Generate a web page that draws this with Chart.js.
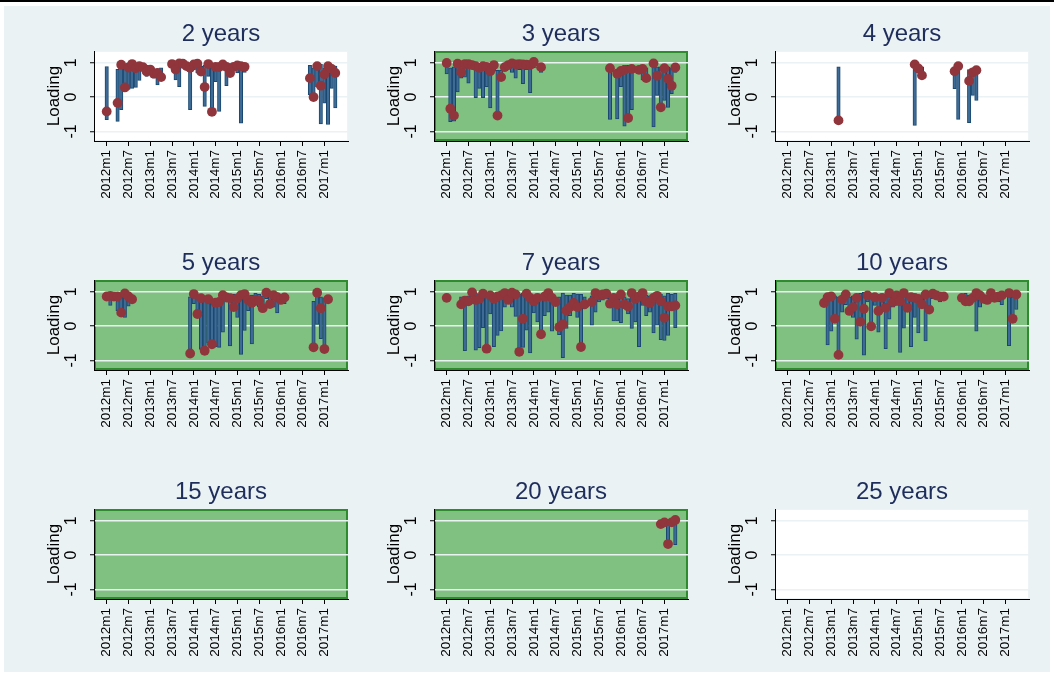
<!DOCTYPE html>
<html>
<head>
<meta charset="utf-8">
<script src="https://cdn.jsdelivr.net/npm/chart.js@4.4.1/dist/chart.umd.min.js"></script>
<style>
  html, body { margin: 0; padding: 0; background: #ffffff; }
  body { width: 1054px; height: 675px; position: relative; overflow: hidden; }
  #rule { position: absolute; left: 0; top: 0; width: 1054px; height: 2px; background: #000; }
  #region { position: absolute; left: 4px; top: 6px; width: 1046px; height: 666px; background: #eaf2f3; }
  canvas { position: absolute; }
</style>
</head>
<body>
<div id="rule"></div>
<div id="region"></div>
<script>
// Time axis: months counted from 2012m1 (0 = 2012m1)
const tickMonths = [0, 6, 12, 18, 24, 30, 36, 42, 48, 54, 60];
const tickLabels = ['2012m1', '2012m7', '2013m1', '2013m7', '2014m1', '2014m7',
                    '2015m1', '2015m7', '2016m1', '2016m7', '2017m1'];
const yTicks = [-1, 0, 1];

// 2 years
const months2 = [0, 3, 4, 5, 6, 7, 8, 9, 10, 11, 12, 13, 14, 15, 18, 19, 20, 21, 22, 23, 24, 25, 26, 27, 28, 29, 30, 31, 32, 33, 34, 35, 36, 37, 38, 56, 57, 58, 59, 60, 61, 62, 63];
const low2   = [-0.66, -0.71, -0.37, 0.22, 0.22, 0.25, 0.28, 0.48, 0.75, 0.60, 0.75, 0.55, 0.35, 0.58, 0.90, 0.50, 0.30, 0.85, 0.85, -0.37, 0.80, 0.70, 0.74, -0.27, 0.60, -0.50, 0.45, -0.42, 0.82, 0.33, 0.65, 0.80, 0.70, -0.76, 0.72, 0.07, -0.05, 0.30, -0.78, -0.18, -0.80, 0.25, -0.32];
const high2  = [0.89, 0.81, 0.94, 0.85, 0.88, 0.96, 0.90, 0.92, 0.90, 0.92, 0.85, 0.80, 0.82, 0.85, 0.98, 0.95, 0.98, 0.98, 0.96, 0.95, 0.96, 0.98, 0.90, 0.92, 0.96, 0.92, 0.88, 0.90, 0.95, 0.90, 0.85, 0.90, 0.92, 0.90, 0.90, 0.92, 0.85, 0.92, 0.95, 0.85, 0.90, 0.90, 0.90];
const load2  = [-0.42, -0.17, 0.94, 0.28, 0.86, 0.96, 0.84, 0.90, 0.87, 0.74, 0.80, 0.68, 0.70, 0.58, 0.96, 0.80, 0.98, 0.97, 0.90, 0.85, 0.95, 0.97, 0.74, 0.29, 0.96, -0.43, 0.88, 0.87, 0.95, 0.88, 0.70, 0.88, 0.92, 0.90, 0.88, 0.55, 0.00, 0.90, 0.33, 0.66, 0.90, 0.82, 0.70];

// 3 years
const months3 = [0, 1, 2, 3, 4, 5, 6, 7, 8, 9, 10, 11, 12, 13, 14, 15, 16, 17, 18, 19, 20, 21, 22, 23, 24, 26, 45, 47, 48, 49, 50, 51, 53, 54, 55, 57, 58, 59, 60, 61, 62, 63];
const low3   = [0.67, -0.72, -0.70, 0.15, 0.55, 0.58, 0.40, 0.85, -0.02, 0.25, -0.02, 0.30, -0.32, 0.75, -0.55, 0.58, 0.75, 0.82, 0.72, 0.55, 0.80, 0.39, 0.80, 0.13, 0.85, 0.72, -0.65, -0.64, 0.30, -0.85, -0.65, -0.37, 0.75, 0.50, 0.55, -0.87, 0.05, -0.30, -0.10, -0.30, 0.10, 0.72];
const high3  = [0.99, 0.85, 0.88, 0.97, 0.90, 0.96, 0.96, 0.93, 0.90, 0.90, 0.90, 0.90, 0.85, 0.93, 0.78, 0.78, 0.87, 0.93, 0.98, 0.97, 0.96, 0.95, 0.95, 0.97, 1.02, 0.87, 0.85, 0.80, 0.85, 0.92, 0.92, 0.88, 0.85, 0.82, 0.85, 0.98, 0.88, 0.88, 0.90, 0.88, 0.85, 0.86];
const load3  = [0.99, -0.34, -0.54, 0.97, 0.72, 0.96, 0.96, 0.93, 0.90, 0.85, 0.90, 0.88, 0.75, 0.93, -0.54, 0.58, 0.87, 0.93, 0.98, 0.95, 0.96, 0.95, 0.94, 0.93, 1.02, 0.87, 0.84, 0.68, 0.76, 0.79, -0.61, 0.82, 0.79, 0.82, 0.55, 0.98, 0.62, -0.30, 0.84, 0.53, 0.33, 0.86];

// 4 years
const months4 = [14, 35, 36, 37, 46, 47, 50, 51, 52];
const low4    = [-0.68, -0.83, 0.70, 0.63, 0.24, -0.65, -0.75, 0.05, -0.10];
const high4   = [0.88, 0.95, 0.88, 0.88, 0.80, 0.90, 0.80, 0.78, 0.80];
const load4   = [-0.68, 0.95, 0.83, 0.63, 0.75, 0.90, 0.47, 0.72, 0.78];

// 5 years
const months5 = [0, 1, 2, 3, 4, 5, 6, 7, 23, 24, 25, 26, 27, 28, 29, 30, 31, 32, 33, 34, 35, 36, 37, 38, 39, 40, 41, 42, 43, 44, 45, 46, 47, 48, 49, 57, 58, 59, 60, 61];
const low5    = [0.80, 0.60, 0.75, 0.45, 0.39, 0.25, 0.58, 0.75, -0.80, 0.65, 0.30, -0.68, -0.73, -0.50, -0.60, -0.60, -0.62, -0.18, 0.75, -0.58, 0.55, 0.25, -0.83, -0.13, 0.45, -0.52, 0.60, 0.55, 0.50, 0.80, 0.55, 0.55, 0.38, 0.70, 0.65, -0.65, 0.05, -0.37, -0.70, 0.68];
const high5   = [0.90, 0.88, 0.87, 0.86, 0.85, 0.95, 0.90, 0.85, 0.85, 0.93, 0.85, 0.85, 0.78, 0.80, 0.75, 0.75, 0.78, 0.90, 0.88, 0.90, 0.92, 0.90, 0.92, 0.93, 0.88, 0.90, 0.95, 0.92, 0.88, 0.97, 0.90, 0.90, 0.85, 0.82, 0.83, 0.72, 0.97, 0.85, 0.82, 0.80];
const load5   = [0.86, 0.88, 0.86, 0.86, 0.39, 0.95, 0.86, 0.78, -0.80, 0.93, 0.35, 0.81, -0.72, 0.78, -0.53, 0.68, 0.70, 0.90, 0.83, 0.81, 0.55, 0.80, 0.90, 0.93, 0.76, 0.68, 0.76, 0.74, 0.52, 0.97, 0.64, 0.90, 0.84, 0.76, 0.83, -0.62, 0.97, 0.52, -0.67, 0.78];

// 7 years
const months7 = [0, 4, 5, 6, 7, 8, 9, 10, 11, 12, 13, 14, 15, 16, 17, 18, 19, 20, 21, 22, 23, 24, 25, 26, 27, 28, 29, 30, 31, 32, 33, 34, 35, 36, 37, 38, 40, 41, 42, 43, 44, 45, 46, 47, 48, 49, 50, 51, 52, 53, 54, 55, 56, 57, 58, 59, 60, 61, 62, 63];
const low7    = [null, 0.60, -0.72, 0.70, 0.80, -0.70, -0.63, -0.05, -0.70, 0.35, -0.60, -0.27, -0.14, 0.55, 0.70, 0.55, 0.28, -0.78, -0.62, -0.12, -0.78, 0.38, 0.12, -0.26, 0.30, 0.40, -0.15, 0.65, -0.25, -0.92, -0.07, 0.30, 0.50, 0.25, -0.63, 0.50, 0.00, 0.40, 0.70, 0.75, 0.78, 0.65, 0.15, 0.15, 0.10, 0.55, 0.35, -0.07, 0.12, -0.60, 0.60, 0.30, 0.40, -0.20, 0.00, -0.40, -0.42, -0.27, 0.55, -0.05];
const high7   = [null, 0.85, 0.85, 0.88, 0.98, 0.95, 0.92, 0.94, 0.88, 0.89, 0.88, 0.88, 0.89, 0.96, 0.90, 0.97, 0.95, 0.92, 0.95, 0.94, 0.88, 0.85, 0.88, 0.85, 0.90, 0.96, 0.85, 0.82, 0.85, 0.96, 0.90, 0.90, 0.95, 0.93, 0.92, 0.85, 0.88, 0.96, 0.89, 0.92, 0.94, 0.90, 0.85, 0.88, 0.92, 0.85, 0.80, 0.96, 0.88, 0.90, 0.96, 0.90, 0.88, 0.88, 0.95, 0.92, 0.88, 0.95, 0.92, 0.95];
const load7   = [0.82, 0.63, 0.74, 0.72, 0.98, 0.76, 0.79, 0.94, -0.66, 0.89, 0.79, 0.86, 0.89, 0.96, 0.76, 0.97, 0.92, -0.75, 0.21, 0.94, 0.82, 0.72, 0.82, -0.24, 0.86, 0.96, 0.82, 0.70, -0.03, 0.05, 0.45, 0.55, 0.67, 0.55, -0.61, 0.63, 0.70, 0.96, 0.89, 0.92, 0.94, 0.65, 0.82, 0.63, 0.92, 0.63, 0.57, 0.96, 0.79, 0.86, 0.96, 0.72, 0.67, 0.82, 0.88, 0.72, 0.24, 0.57, 0.57, 0.60];

// 10 years
const months10 = [10, 11, 12, 13, 14, 15, 16, 17, 18, 19, 20, 21, 22, 23, 24, 25, 26, 27, 28, 29, 30, 31, 32, 33, 34, 35, 36, 37, 38, 39, 40, 41, 42, 43, 48, 49, 50, 51, 52, 53, 54, 55, 56, 57, 58, 59, 61, 62, 63];
const low10    = [0.60, -0.55, -0.15, 0.15, -0.85, 0.40, 0.62, 0.35, 0.25, -0.38, 0.10, -0.85, 0.70, -0.12, 0.60, -0.18, 0.50, -0.66, 0.20, 0.55, 0.60, -0.77, -0.06, 0.45, -0.60, 0.25, -0.20, 0.55, -0.43, 0.45, 0.80, 0.80, 0.70, 0.78, 0.78, 0.72, 0.70, 0.80, -0.15, 0.55, 0.75, 0.70, 0.75, 0.72, 0.70, 0.62, -0.57, 0.20, 0.48];
const high10   = [0.80, 0.88, 0.88, 0.88, 0.85, 0.85, 0.92, 0.85, 0.88, 0.90, 0.95, 0.98, 0.90, 0.88, 0.95, 0.92, 0.88, 0.90, 0.96, 0.90, 0.90, 0.88, 0.96, 0.92, 0.90, 0.88, 0.86, 0.85, 0.92, 0.88, 0.95, 0.90, 0.92, 0.90, 0.85, 0.95, 0.90, 0.88, 0.96, 0.90, 0.85, 0.88, 0.96, 0.85, 0.88, 0.90, 0.96, 0.85, 0.92];
const load10   = [0.67, 0.84, 0.86, 0.21, -0.84, 0.77, 0.92, 0.44, 0.55, 0.82, 0.12, 0.50, 0.89, -0.01, 0.84, 0.44, 0.82, 0.53, 0.96, 0.70, 0.89, 0.72, 0.96, 0.53, 0.84, 0.82, 0.79, 0.63, 0.92, 0.48, 0.94, 0.89, 0.86, 0.86, 0.82, 0.72, 0.72, 0.82, 0.96, 0.89, 0.79, 0.76, 0.96, 0.82, 0.86, 0.89, 0.96, 0.21, 0.92];

// 15 years (no estimates)
const months15 = [];
const low15 = [];
const high15 = [];
const load15 = [];

// 20 years
const months20 = [59, 60, 61, 62, 63];
const low20    = [null, null, 0.32, null, 0.30];
const high20   = [null, null, 0.95, null, 1.02];
const load20   = [0.90, 0.95, 0.32, 0.95, 1.02];

// 25 years (no estimates)
const months25 = [];
const low25 = [];
const high25 = [];
const load25 = [];

const panels = [
  { title: '2 years',  months: months2,  low: low2,  high: high2,  load: load2,  shaded: false },
  { title: '3 years',  months: months3,  low: low3,  high: high3,  load: load3,  shaded: true },
  { title: '4 years',  months: months4,  low: low4,  high: high4,  load: load4,  shaded: false },
  { title: '5 years',  months: months5,  low: low5,  high: high5,  load: load5,  shaded: true },
  { title: '7 years',  months: months7,  low: low7,  high: high7,  load: load7,  shaded: true },
  { title: '10 years', months: months10, low: low10, high: high10, load: load10, shaded: true },
  { title: '15 years', months: months15, low: low15, high: high15, load: load15, shaded: true },
  { title: '20 years', months: months20, low: low20, high: high20, load: load20, shaded: true },
  { title: '25 years', months: months25, low: low25, high: high25, load: load25, shaded: false }
];

// Layout of the 3x3 grid (plot-region positions)
const colLeft = [94, 434, 775];
const rowTop = [51, 280, 509];
const plotW = 254, plotH = 90;
const padL = 62, padT = 40, padB = 68, padR = 10;
const xMin = -3.5, xMax = 66.5;
const yMin = -1.28, yMax = 1.34;

const FONT = '"Liberation Sans", Arial, Helvetica, sans-serif';
const BAR_FILL = '#3d6b95', BAR_LINE = '#1a476f', DOT = '#90353b';
const GRID = '#eaf2f3';

// Fills the plot region and outlines it
const plotRegion = {
  id: 'plotRegion',
  beforeDraw(chart, args, opts) {
    const { ctx, chartArea: a } = chart;
    ctx.save();
    ctx.fillStyle = opts.fill;
    ctx.fillRect(a.left, a.top, a.width, a.height);
    if (opts.lineWidth > 0) {
      ctx.strokeStyle = opts.stroke;
      ctx.lineWidth = opts.lineWidth;
      const h = opts.lineWidth / 2;
      ctx.strokeRect(a.left + h, a.top + h, a.width - 2 * h, a.height - 2 * h);
    }
    ctx.restore();
  }
};

// Vertical (rotated) value labels on the y axis
const rotatedYLabels = {
  id: 'rotatedYLabels',
  afterDraw(chart) {
    const s = chart.scales.y;
    const ctx = chart.ctx;
    ctx.save();
    ctx.font = '16px ' + FONT;
    ctx.fillStyle = '#000';
    ctx.textAlign = 'center';
    ctx.textBaseline = 'middle';
    s.ticks.forEach(t => {
      const y = s.getPixelForValue(t.value);
      ctx.save();
      ctx.translate(s.right - 22, y);
      ctx.rotate(-Math.PI / 2);
      ctx.fillText(String(t.value), 0, 0);
      ctx.restore();
    });
    ctx.restore();
  }
};

const monthWidth = plotW / (xMax - xMin);

panels.forEach((p, i) => {
  const col = i % 3, row = Math.floor(i / 3);
  const canvas = document.createElement('canvas');
  const w = padL + plotW + padR, h = padT + plotH + padB;
  canvas.width = w;
  canvas.height = h;
  canvas.style.left = (colLeft[col] - padL) + 'px';
  canvas.style.top = (rowTop[row] - padT) + 'px';
  canvas.style.width = w + 'px';
  canvas.style.height = h + 'px';
  document.body.appendChild(canvas);

  const bars = [];
  const dots = [];
  p.months.forEach((m, k) => {
    if (p.low[k] !== null && p.high[k] !== null) bars.push({ x: m, y: [p.low[k], p.high[k]] });
    if (p.load[k] !== null) dots.push({ x: m, y: p.load[k] });
  });

  new Chart(canvas, {
    type: 'bar',
    data: {
      datasets: [
        {
          type: 'scatter', data: dots, order: 0,
          backgroundColor: DOT, borderColor: DOT, borderWidth: 0,
          pointRadius: 4.9, pointHoverRadius: 4.9
        },
        {
          type: 'bar', data: bars, order: 1,
          backgroundColor: BAR_FILL, borderColor: BAR_LINE, borderWidth: 1,
          borderSkipped: false, barThickness: monthWidth * 0.95
        }
      ]
    },
    options: {
      responsive: false,
      animation: false,
      events: [],
      devicePixelRatio: 1,
      layout: { padding: { left: 0, right: padR, top: 0, bottom: 0 } },
      plugins: {
        legend: { display: false },
        tooltip: { enabled: false },
        title: {
          display: true, text: p.title, fullSize: false,
          color: '#1e2d5c',
          font: { family: FONT, size: 24, weight: 'normal' },
          padding: { top: 9, bottom: 2.2 }
        },
        plotRegion: p.shaded
          ? { fill: '#80c080', stroke: '#2e8b2e', lineWidth: 2 }
          : { fill: '#ffffff', stroke: '#eef4f5', lineWidth: 1 }
      },
      scales: {
        x: {
          type: 'linear', min: xMin, max: xMax, offset: false,
          afterFit: s => { s.height = padB; },
          afterBuildTicks: s => { s.ticks = tickMonths.map(v => ({ value: v })); },
          grid: { display: true, drawOnChartArea: false, drawTicks: true, tickLength: 5, color: '#000', offset: false },
          border: { display: true, color: '#000', width: 1 },
          ticks: {
            autoSkip: false, minRotation: 90, maxRotation: 90, padding: 4,
            color: '#000', font: { family: FONT, size: 13.5 },
            callback: v => tickLabels[tickMonths.indexOf(v)]
          }
        },
        y: {
          type: 'linear', min: yMin, max: yMax,
          afterFit: s => { s.width = padL; },
          afterBuildTicks: s => { s.ticks = yTicks.map(v => ({ value: v })); },
          grid: { color: GRID, lineWidth: 1.5, drawTicks: true, tickLength: 4, tickColor: '#000', tickWidth: 1 },
          border: { display: true, color: '#000', width: 1 },
          ticks: { display: false },
          title: {
            display: true, text: 'Loading', color: '#000',
            font: { family: FONT, size: 17 },
            padding: { top: 11.8, bottom: 0 }
          }
        }
      }
    },
    plugins: [plotRegion, rotatedYLabels]
  });
});
</script>
</body>
</html>
